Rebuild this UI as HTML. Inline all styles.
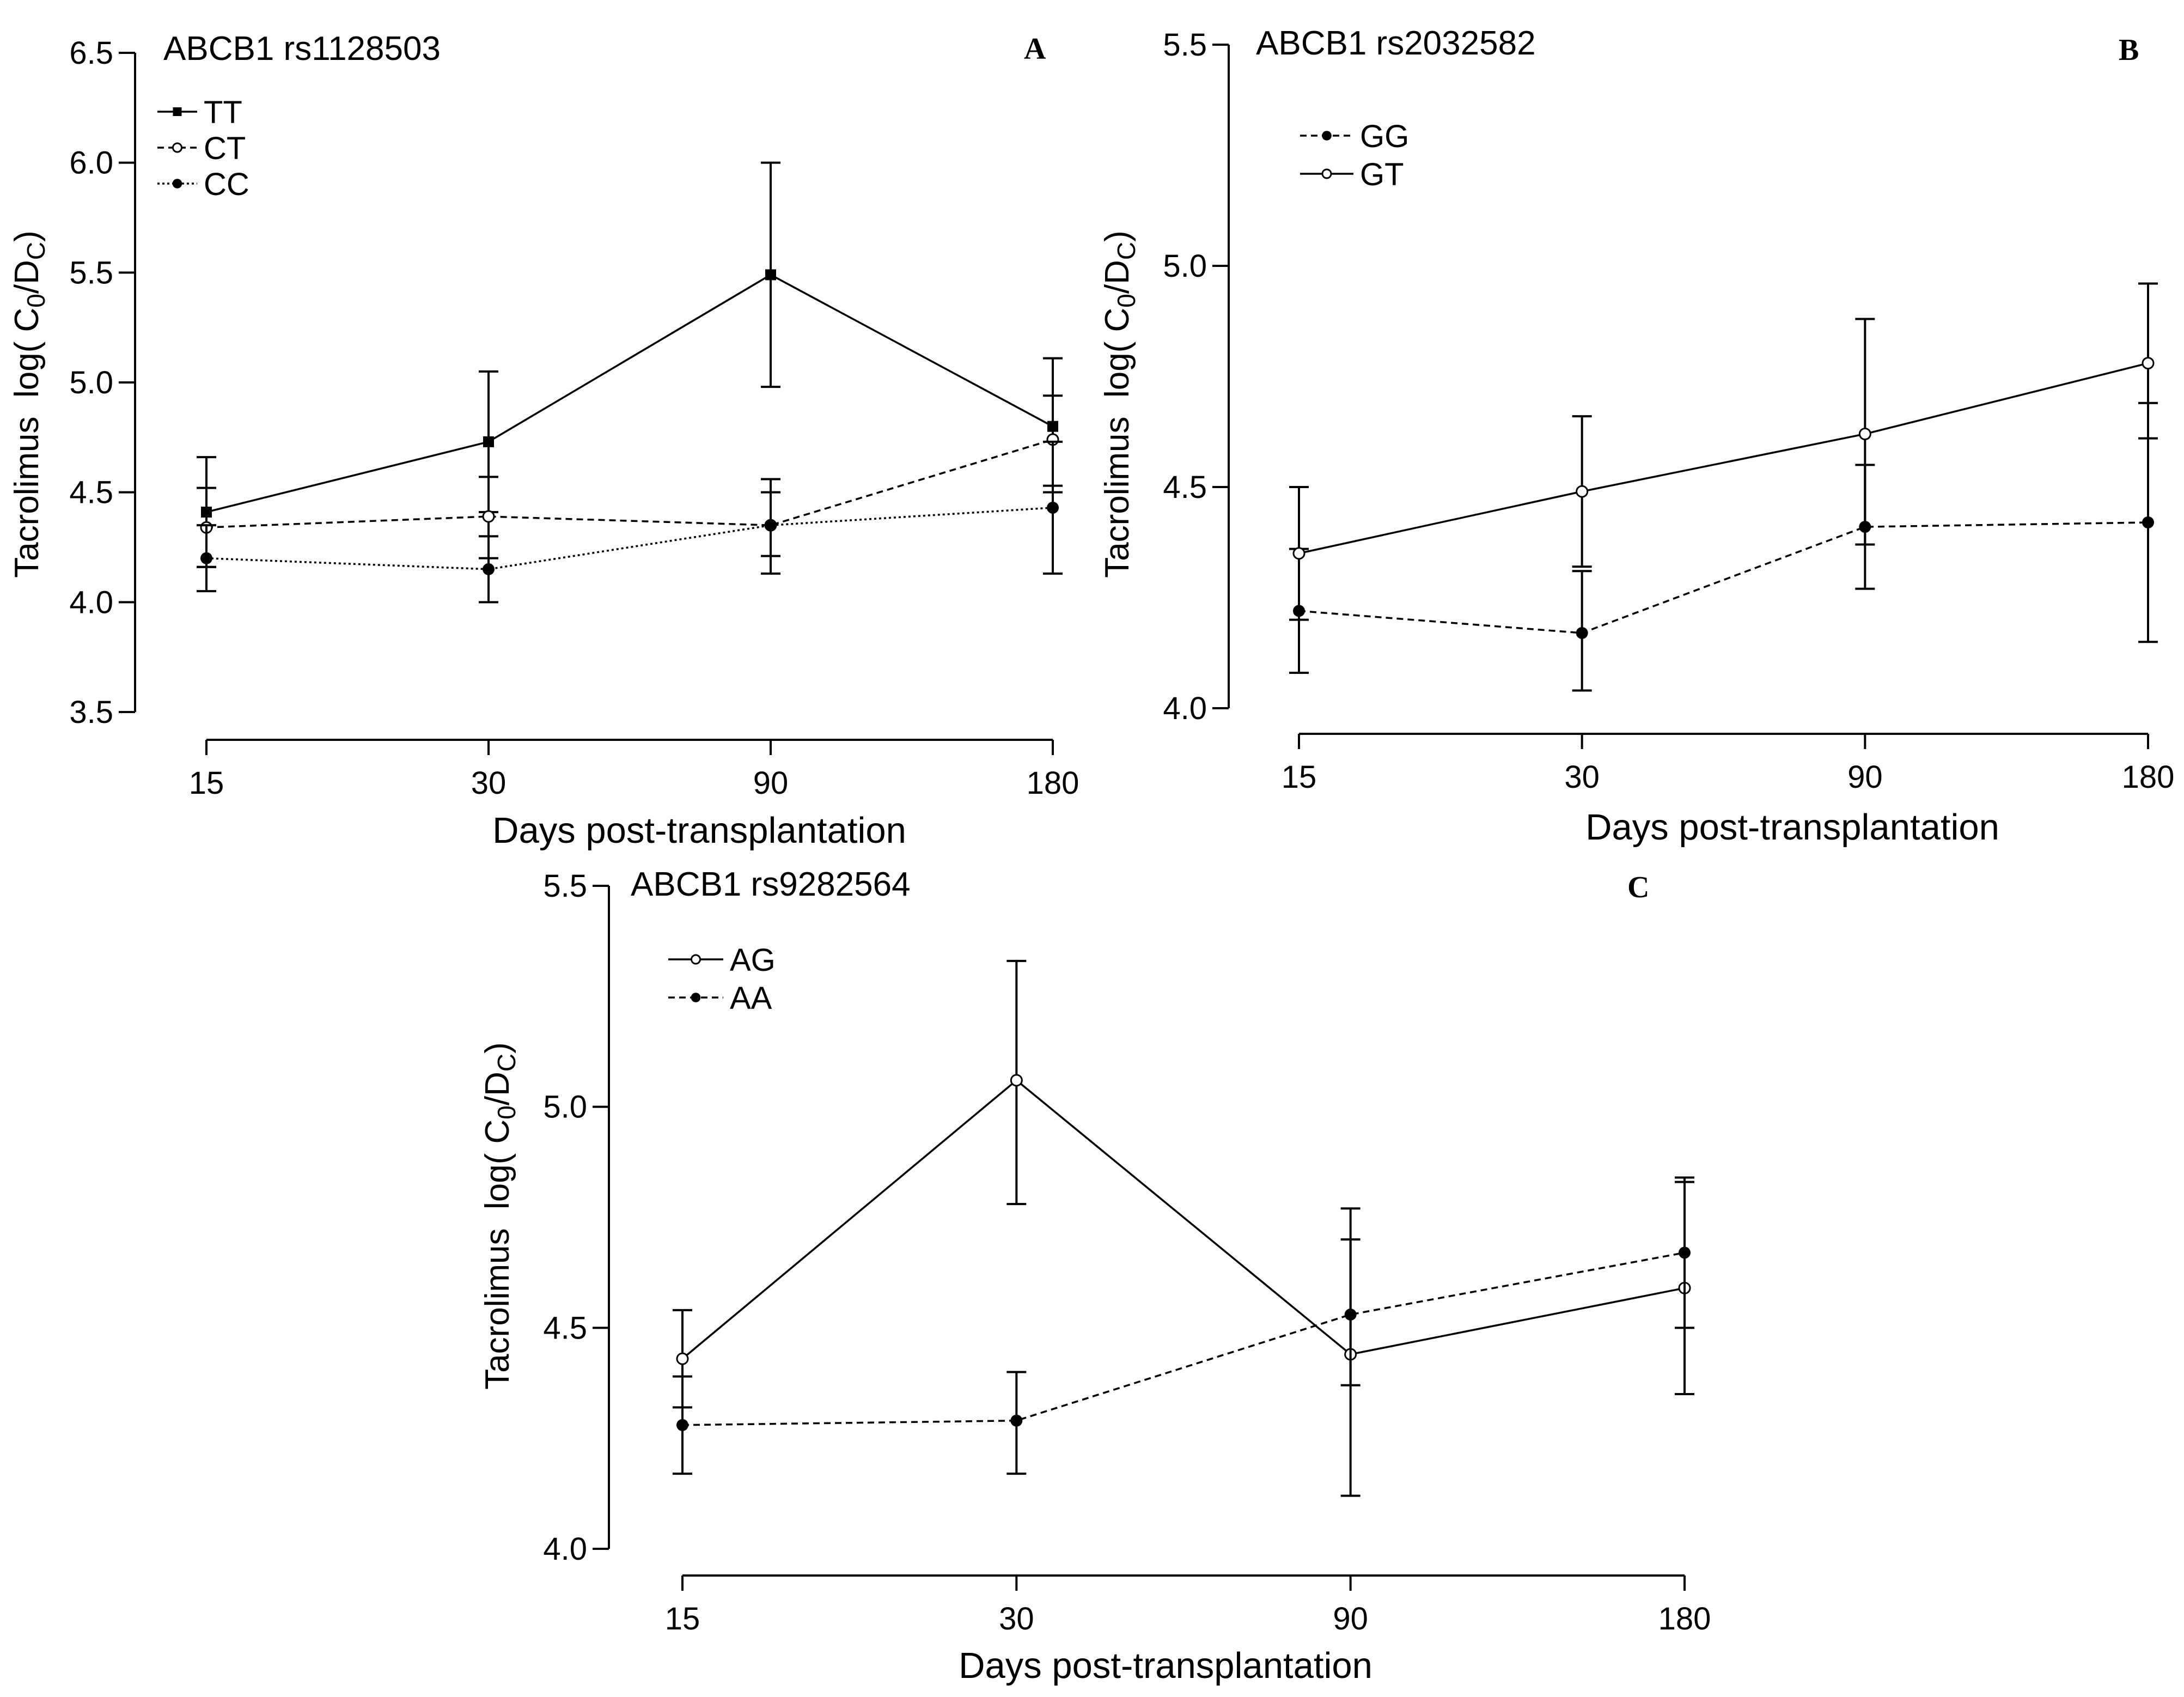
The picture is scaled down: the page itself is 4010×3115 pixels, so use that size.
<!DOCTYPE html>
<html><head><meta charset="utf-8"><style>html,body{margin:0;padding:0;background:#fff}svg{display:block}</style></head>
<body>
<svg id="fig" xmlns="http://www.w3.org/2000/svg" width="4010" height="3115" viewBox="0 0 4010 3115" font-family="'Liberation Sans', Arial, sans-serif">
<rect width="4010" height="3115" fill="#fff"/>
</svg>
<script>
const days = ["15","30","90","180"];
// Panel A
const aTicks = [3.5,4.0,4.5,5.0,5.5,6.0,6.5];
const aTT = [4.41,4.73,5.49,4.80], aTTlo=[4.16,4.41,4.98,4.50], aTThi=[4.66,5.05,6.00,5.11];
const aCT = [4.34,4.39,4.35,4.74], aCTlo=[4.16,4.20,4.13,4.53], aCThi=[4.52,4.57,4.56,4.94];
const aCC = [4.20,4.15,4.35,4.43], aCClo=[4.05,4.00,4.21,4.13], aCChi=[4.35,4.30,4.50,4.73];
// Panel B
const bTicks = [4.0,4.5,5.0,5.5];
const bGG = [4.22,4.17,4.41,4.42], bGGlo=[4.08,4.04,4.27,4.15], bGGhi=[4.36,4.31,4.55,4.69];
const bGT = [4.35,4.49,4.62,4.78], bGTlo=[4.20,4.32,4.37,4.61], bGThi=[4.50,4.66,4.88,4.96];
// Panel C
const cTicks = [4.0,4.5,5.0,5.5];
const cAG = [4.43,5.06,4.44,4.59], cAGlo=[4.32,4.78,4.12,4.35], cAGhi=[4.54,5.33,4.77,4.83];
const cAA = [4.28,4.29,4.53,4.67], cAAlo=[4.17,4.17,4.37,4.50], cAAhi=[4.39,4.40,4.70,4.84];

const NS="http://www.w3.org/2000/svg";
const svg=document.getElementById('fig');
function mk(tag,attrs,parent){const e=document.createElementNS(NS,tag);for(const k in attrs)e.setAttribute(k,attrs[k]);(parent||svg).appendChild(e);return e;}

function panel(cfg){
  const g=mk('g',{});
  
  
  const ys=v=>cfg.yTop+(cfg.tMax-v)/(cfg.tMax-cfg.tMin)*(cfg.yBot-cfg.yTop);
  const xs=i=>cfg.xs0+i*(cfg.xs1-cfg.xs0)/3;
  const ya=mk('line',{x1:cfg.ax,y1:ys(cfg.tMax),x2:cfg.ax,y2:ys(cfg.tMin),stroke:'#000','stroke-width':4},g);
  
  
  cfg.ticks.forEach(t=>{
    mk('line',{x1:cfg.ax-30,y1:ys(t),x2:cfg.ax,y2:ys(t),stroke:'#000','stroke-width':4},g);
    const tl=mk('text',{x:cfg.ax-40,y:ys(t)+20,'text-anchor':'end','font-size':58},g);
    tl.textContent=t.toFixed(1);
    
    
  });
  const xa=mk('line',{x1:xs(0),y1:cfg.xaY,x2:xs(3),y2:cfg.xaY,stroke:'#000','stroke-width':4},g);
  
  
  days.forEach((d,i)=>{
    mk('line',{x1:xs(i),y1:cfg.xaY,x2:xs(i),y2:cfg.xaY+28,stroke:'#000','stroke-width':4},g);
    const tl=mk('text',{x:xs(i),y:cfg.xaY+99,'text-anchor':'middle','font-size':58},g);
    tl.textContent=d;
    
    
  });
  const xl=mk('text',{x:cfg.xlX,y:cfg.xlY,'text-anchor':'middle','font-size':67},g);
  xl.textContent='Days post-transplantation';
  
  
  const yl=mk('text',{transform:`translate(${cfg.ylX},${cfg.ylY}) rotate(-90)`,'text-anchor':'middle','font-size':62},g);
  
  
  yl.innerHTML='Tacrolimus\u00a0\u00a0log( C<tspan font-size="46" dy="12">0</tspan><tspan dy="-12">/D</tspan><tspan font-size="46" dy="12">C</tspan><tspan dy="-12">)</tspan>';
  const tt=mk('text',{x:cfg.titleX,y:cfg.titleY,'font-size':62},g);
  tt.textContent=cfg.title;
  
  
  const lt=mk('text',{x:cfg.letX,y:cfg.letY,'font-size':56,'font-weight':'bold','font-family':"'Liberation Serif', serif"},g);
  lt.textContent=cfg.letter;
  
  
  cfg.series.forEach((s,si)=>{
    const sg=mk('g',{},g);
    
    
    s.lo.forEach((lo,i)=>{
      const x=xs(i);
      mk('line',{x1:x,y1:ys(lo),x2:x,y2:ys(s.hi[i]),stroke:'#000','stroke-width':4},sg);
      mk('line',{x1:x-18,y1:ys(lo),x2:x+18,y2:ys(lo),stroke:'#000','stroke-width':4},sg);
      mk('line',{x1:x-18,y1:ys(s.hi[i]),x2:x+18,y2:ys(s.hi[i]),stroke:'#000','stroke-width':4},sg);
    });
    const pts=s.v.map((v,i)=>xs(i)+','+ys(v)).join(' ');
    mk('polyline',{points:pts,fill:'none',stroke:'#000','stroke-width':3.5,'stroke-dasharray':s.dash},sg);
    s.v.forEach((v,i)=>marker(sg,xs(i),ys(v),s.m));
    const ly=cfg.legY+si*cfg.legDy;
    mk('line',{x1:cfg.legX0,y1:ly,x2:cfg.legX1,y2:ly,stroke:'#000','stroke-width':3.5,'stroke-dasharray':s.dash},sg);
    marker(sg,(cfg.legX0+cfg.legX1)/2,ly,s.m,0.8);
    const le=mk('text',{x:cfg.legX1+12,y:ly+21,'font-size':58},sg);
    le.textContent=s.label;
    
    
  });
}
function marker(p,x,y,m,sc){sc=sc||1;
  if(m==='sq') mk('rect',{x:x-10*sc,y:y-10*sc,width:20*sc,height:20*sc,fill:'#000'},p);
  else if(m==='open') mk('circle',{cx:x,cy:y,r:10*sc,fill:'#fff',stroke:'#000','stroke-width':3},p);
  else mk('circle',{cx:x,cy:y,r:11*sc,fill:'#000'},p);
}

panel({name:'panel-a',ax:248,yTop:97,yBot:1307,tMax:6.5,tMin:3.5,ticks:aTicks,xs0:379,xs1:1933,xaY:1358,
  xlX:1284,xlY:1547,ylX:70,ylY:742,title:'ABCB1 rs1128503',titleX:300,titleY:110,letter:'A',letX:1880,letY:108,
  legX0:289,legX1:362,legY:205,legDy:66,
  series:[{label:'TT',v:aTT,lo:aTTlo,hi:aTThi,dash:'none',m:'sq'},
          {label:'CT',v:aCT,lo:aCTlo,hi:aCThi,dash:'12,8',m:'open'},
          {label:'CC',v:aCC,lo:aCClo,hi:aCChi,dash:'4,5',m:'fill'}]});
panel({name:'panel-b',ax:2256,yTop:82,yBot:1300,tMax:5.5,tMin:4.0,ticks:bTicks,xs0:2385,xs1:3944,xaY:1347,
  xlX:3291,xlY:1541,ylX:2072,ylY:742,title:'ABCB1 rs2032582',titleX:2306,titleY:100,letter:'B',letX:3890,letY:110,
  legX0:2387,legX1:2485,legY:249,legDy:70,
  series:[{label:'GG',v:bGG,lo:bGGlo,hi:bGGhi,dash:'12,8',m:'fill'},
          {label:'GT',v:bGT,lo:bGTlo,hi:bGThi,dash:'none',m:'open'}]});
panel({name:'panel-c',ax:1118,yTop:1626,yBot:2843,tMax:5.5,tMin:4.0,ticks:cTicks,xs0:1253,xs1:3093,xaY:2892,
  xlX:2140,xlY:3080,ylX:934,ylY:2232,title:'ABCB1 rs9282564',titleX:1158,titleY:1644,letter:'C',letX:2988,letY:1647,
  legX0:1227,legX1:1328,legY:1761,legDy:70,
  series:[{label:'AG',v:cAG,lo:cAGlo,hi:cAGhi,dash:'none',m:'open'},
          {label:'AA',v:cAA,lo:cAAlo,hi:cAAhi,dash:'12,8',m:'fill'}]});
</script>
</body></html>
